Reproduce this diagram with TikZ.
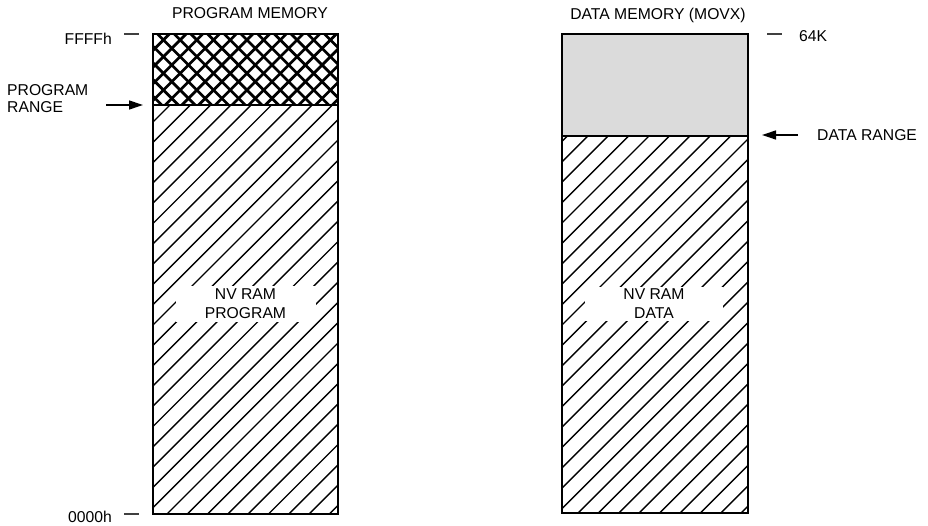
\documentclass[tikz,border=0pt]{standalone}
\usepackage{fontspec}
\setmainfont{Liberation Sans}
\usetikzlibrary{arrows.meta}
\begin{document}
\begin{tikzpicture}[x=1pt,y=-1pt,
  lbl/.style={inner sep=0pt, font=\fontsize{15.7}{17}\selectfont, text height=11.3pt, text depth=0pt},
  lbltwo/.style={inner sep=0pt, font=\fontsize{15.7}{17}\selectfont, align=left},
  region/.style={fill=white, inner sep=0pt, align=center, font=\fontsize{15.7}{19}\selectfont},
  hatchline/.style={line width=1.4pt},
  crossline/.style={line width=2.7pt},
  boxline/.style={line width=1.4pt},
  tick/.style={line width=1.2pt, black!75},
  pointer/.style={line width=1.3pt, -{Triangle[length=14pt,width=9pt]}}]
\useasboundingbox (0,0) rectangle (928,526);

% ---------- program memory ----------
\begin{scope}
  \clip (153,105) rectangle (338,514);
  \foreach \k in {0,...,31}
    \draw[hatchline] ({234.4+20.3*\k-600},600) -- ({234.4+20.3*\k},0);
\end{scope}
\begin{scope}
  \clip (153,34) rectangle (338,105);
  \foreach \k in {0,...,17}
    \draw[crossline] ({170+16.7*\k-200},200) -- ({170+16.7*\k},0);
  \foreach \k in {0,...,17}
    \draw[crossline] ({40+16.7*\k},0) -- ({40+16.7*\k+200},200);
\end{scope}
\draw[boxline] (153,34) rectangle (338,514);
\draw[boxline] (153,105) -- (338,105);

% ---------- data memory ----------
\fill[black!14] (562,34) rectangle (748,136);
\begin{scope}
  \clip (562,136) rectangle (748,513);
  \foreach \k in {0,...,30}
    \draw[hatchline] ({683+20.4*\k-600},600) -- ({683+20.4*\k},0);
\end{scope}
\draw[boxline] (562,34) rectangle (748,513);
\draw[boxline] (562,136) -- (748,136);

% ---------- region labels ----------
\node[region, minimum width=140pt, minimum height=35pt] (nvp) at (245.5,304) {NV RAM\\PROGRAM};
\node[region, minimum width=138pt, minimum height=34pt] (nvd) at (654,304) {NV RAM\\DATA};

% ---------- titles ----------
\node[lbl] (tp) at (250,13) {PROGRAM MEMORY};
\node[lbl] (td) at (658,14) {DATA MEMORY (MOVX)};

% ---------- address labels ----------
\node[lbl, anchor=east] (ffff) at (112,39) {FFFFh};
\node[lbl, anchor=east] (zero) at (112,517) {0000h};
\node[lbl, anchor=west] (k64) at (799,36) {64K};
\node[lbl, anchor=west] (dr) at (817,135) {DATA RANGE};
\node[lbltwo, anchor=west] (pr) at (7,98.5) {PROGRAM\\RANGE};

\coordinate (t1a) at (124,34);  \coordinate (t1b) at (139,34);
\coordinate (t2a) at (124,514); \coordinate (t2b) at (139,514);
\coordinate (t3a) at (767,34);  \coordinate (t3b) at (782,34);
\draw[tick] (t1a) -- (t1b);
\draw[tick] (t2a) -- (t2b);
\draw[tick] (t3a) -- (t3b);

\coordinate (pra) at (106,105); \coordinate (prb) at (143,105);
\coordinate (dra) at (798,135); \coordinate (drb) at (762,135);
\draw[pointer] (pra) -- (prb);
\draw[pointer] (dra) -- (drb);
\end{tikzpicture}
\end{document}
